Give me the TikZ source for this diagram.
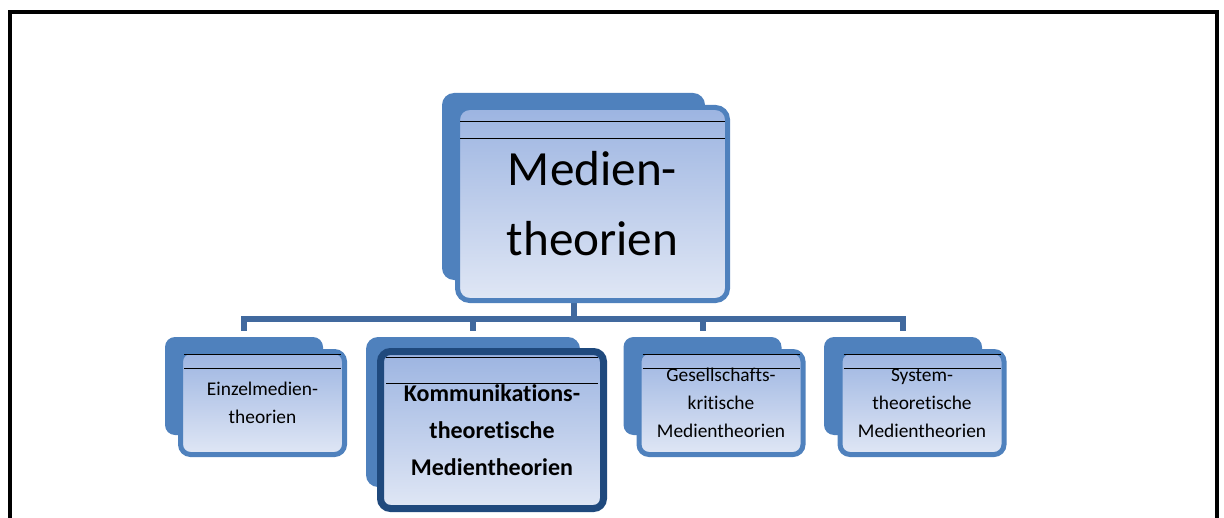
\documentclass[tikz,border=0pt]{standalone}
\usepackage{fontspec}
\setmainfont[Ligatures=NoCommon]{Carlito}
\usetikzlibrary{backgrounds,calc}

\definecolor{cardblue}{HTML}{4F81BD}
\definecolor{linkblue}{HTML}{41699E}
\definecolor{kommnavy}{HTML}{1F497D}
\definecolor{filltop}{HTML}{9CB4E1}
\definecolor{fillbot}{HTML}{E0E7F5}

\tikzset{
  backcard/.style={fill=cardblue, rounded corners=6pt, inner sep=0pt},
  card/.style={draw=cardblue, line width=2.5pt, rounded corners=6pt,
    top color=filltop, bottom color=fillbot, align=center, inner sep=0pt},
  smallback/.style={backcard, rounded corners=5pt, minimum width=79pt, minimum height=49pt},
  smallcard/.style={card, rounded corners=5pt, minimum width=82pt, minimum height=51.5pt,
    font=\fontsize{9.7}{14}\selectfont},
  hotcard/.style={card, draw=kommnavy, line width=3.5pt, rounded corners=5pt,
    minimum width=111.5pt, minimum height=78.5pt, font=\fontsize{12}{18.5}\selectfont\bfseries},
  bar/.style={black, line width=0.5pt},
  connector/.style={draw=linkblue, line width=3pt, shorten >=3pt},
}

\begin{document}
\begin{tikzpicture}[x=0.5pt, y=-0.5pt]
\useasboundingbox (0,0) rectangle (1224,518);
\draw[line width=2pt] (10,518) -- (10,12) -- (1216.5,12) -- (1216.5,518);

\node[backcard, minimum width=131.5pt, minimum height=93.5pt] (medB) at (573.5,186.5) {};
\node[card, minimum width=135pt, minimum height=96.5pt, font=\fontsize{24.6}{35}\selectfont] (med) at (592.5,204) {Medien-\\theorien};

\node[smallback] (einzelB) at (244,386) {};
\node[smallcard] (einzel) at (262.5,403) {Einzelmedien-\\theorien};
\node[backcard, minimum width=107pt, minimum height=75pt] (kommB) at (473,412) {};
\node[hotcard] (komm) at (492,430) {Kommunikations-\\theoretische\\Medientheorien};
\node[smallback] (gesB) at (702.5,386) {};
\node[smallcard] (ges) at (721,403) {Gesellschafts-\\kritische\\Medientheorien};
\node[smallback] (sysB) at (903,386) {};
\node[smallcard] (sys) at (922,403) {System-\\theoretische\\Medientheorien};

\coordinate (bus) at (0,319);
\begin{scope}[on background layer]
\foreach \c in {einzelB,kommB,gesB,sysB}
  \draw[connector] (medB.south) -- (medB.south |- bus) -| (\c.north);
\end{scope}

\foreach \c/\a/\b/\i in {med/17/34/5, einzel/5/19/6, komm/9/35/9, ges/5/19/6, sys/5/19/6}{
  \draw[bar] ($(\c.north west)+(\i,\a)$) -- ($(\c.north east)+(-\i,\a)$);
  \draw[bar] ($(\c.north west)+(\i,\b)$) -- ($(\c.north east)+(-\i,\b)$);
}
\end{tikzpicture}
\end{document}
